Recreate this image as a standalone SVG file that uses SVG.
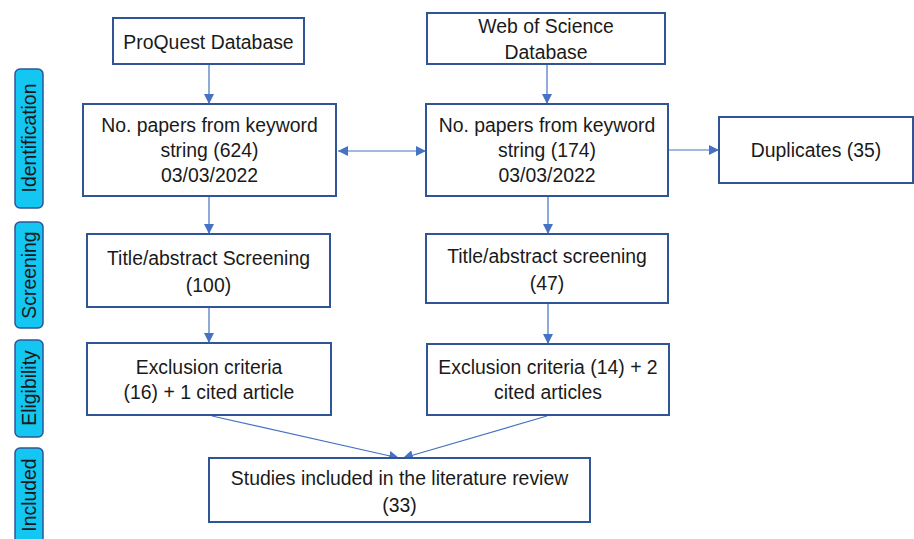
<svg xmlns="http://www.w3.org/2000/svg" width="914" height="539" viewBox="0 0 914 539">
<defs>
<marker id="ah" viewBox="0 0 10 10" refX="10" refY="5" markerWidth="10" markerHeight="10" markerUnits="userSpaceOnUse" orient="auto-start-reverse">
<path d="M0,0 L10,5 L0,10 Z" fill="#4472C4"/>
</marker>
<style>
.box{fill:#fff;stroke:#2F5597;stroke-width:2}
.bar{fill:#14C6F2;stroke:#2F5597;stroke-width:1.5}
.t{font-family:"Liberation Sans",Arial,sans-serif;font-size:19.4px;fill:#1a1a1a;text-anchor:middle}
.c{fill:none;stroke:#4472C4;stroke-width:1.2;marker-end:url(#ah)}
</style>
</defs>
<rect width="914" height="539" fill="#fff"/>
<g id="stages">
<g id="stage-identification"><rect class="bar" x="15" y="69" width="28" height="139" rx="5"/><text class="t" transform="translate(36,138) rotate(-90)">Identification</text></g>
<g id="stage-screening"><rect class="bar" x="15" y="222" width="28" height="106" rx="5"/><text class="t" transform="translate(36,275) rotate(-90)">Screening</text></g>
<g id="stage-eligibility"><rect class="bar" x="15" y="340" width="28" height="97" rx="5"/><text class="t" transform="translate(36,388) rotate(-90)">Eligibility</text></g>
<g id="stage-included"><rect class="bar" x="15" y="448" width="28" height="110" rx="5"/><text class="t" transform="translate(36,495) rotate(-90)">Included</text></g>
</g>
<g id="connectors">
<line class="c" x1="209" y1="64" x2="209" y2="104"/>
<line class="c" x1="547" y1="64" x2="547" y2="104"/>
<line class="c" x1="338" y1="151" x2="426" y2="151" style="marker-start:url(#ah)"/>
<line class="c" x1="668" y1="150" x2="719" y2="150"/>
<line class="c" x1="209" y1="196" x2="209" y2="234"/>
<line class="c" x1="548" y1="196" x2="548" y2="234"/>
<line class="c" x1="209" y1="307" x2="209" y2="343"/>
<line class="c" x1="548" y1="303" x2="548" y2="344"/>
<line class="c" x1="212" y1="416" x2="399" y2="458"/>
<line class="c" x1="547" y1="416" x2="403" y2="458"/>
</g>
<g id="proquest"><rect class="box" x="113" y="18" width="191" height="46"/><text class="t" x="208.5" y="49">ProQuest Database</text></g>
<g id="wos"><rect class="box" x="427" y="13" width="238" height="51"/><text class="t" x="546" y="33">Web of Science</text><text class="t" x="546" y="59">Database</text></g>
<g id="papers-left"><rect class="box" x="83" y="104" width="253" height="92"/><text class="t" x="209.5" y="132">No. papers from keyword</text><text class="t" x="209.5" y="157">string (624)</text><text class="t" x="209.5" y="182">03/03/2022</text></g>
<g id="papers-right"><rect class="box" x="426" y="104" width="242" height="92"/><text class="t" x="547" y="132">No. papers from keyword</text><text class="t" x="547" y="157">string (174)</text><text class="t" x="547" y="182">03/03/2022</text></g>
<g id="duplicates"><rect class="box" x="719" y="117" width="194" height="66"/><text class="t" x="816" y="157">Duplicates (35)</text></g>
<g id="title-left"><rect class="box" x="87" y="234" width="243" height="73"/><text class="t" x="208.5" y="265">Title/abstract Screening</text><text class="t" x="208.5" y="292">(100)</text></g>
<g id="title-right"><rect class="box" x="426" y="234" width="242" height="69"/><text class="t" x="547" y="263">Title/abstract screening</text><text class="t" x="547" y="290">(47)</text></g>
<g id="excl-left"><rect class="box" x="87" y="343" width="244" height="72"/><text class="t" x="209" y="374">Exclusion criteria</text><text class="t" x="209" y="399">(16) + 1 cited article</text></g>
<g id="excl-right"><rect class="box" x="427" y="344" width="242" height="71"/><text class="t" x="548" y="374">Exclusion criteria (14) + 2</text><text class="t" x="548" y="399">cited articles</text></g>
<g id="included"><rect class="box" x="209" y="458" width="381" height="64"/><text class="t" x="399.5" y="485">Studies included in the literature review</text><text class="t" x="399.5" y="512">(33)</text></g>
</svg>
